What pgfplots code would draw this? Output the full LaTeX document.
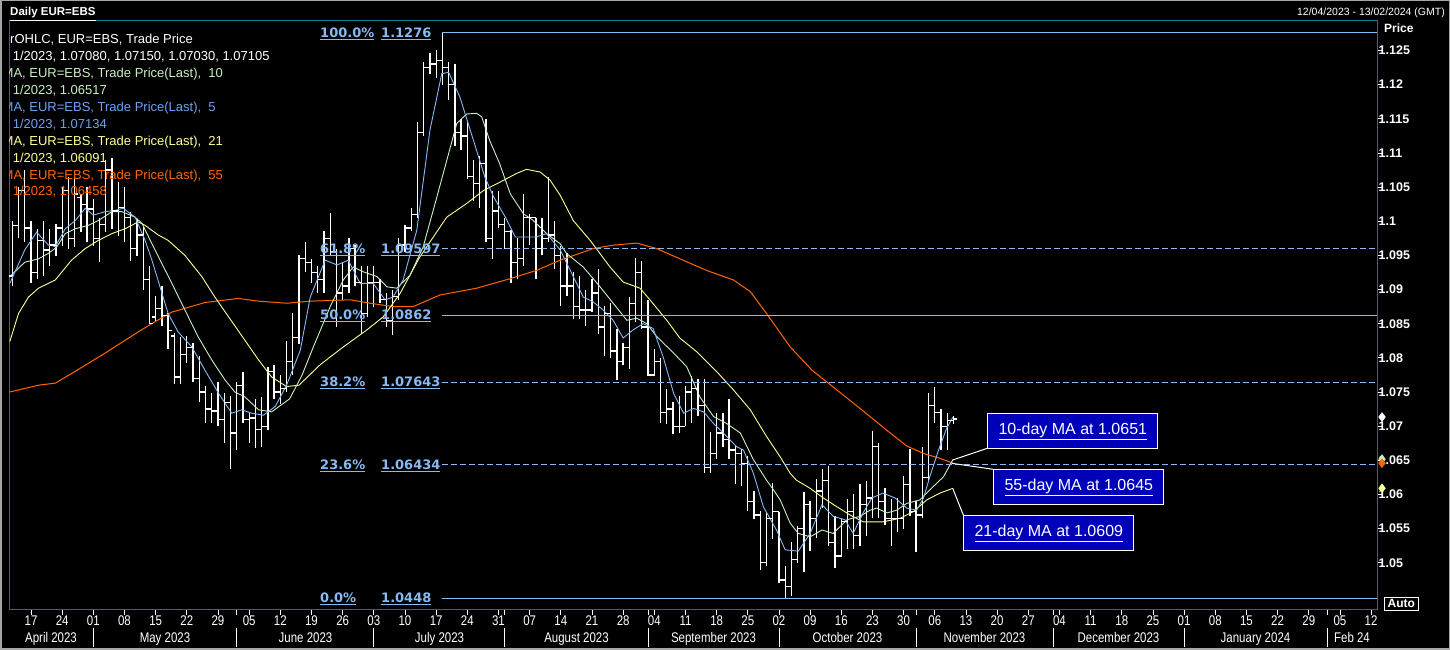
\documentclass[border=0pt]{standalone}
\usepackage{fontspec}
\setmainfont{Liberation Sans}
\newfontfamily\dvs{DejaVu Sans}
\newfontfamily\narrow[FakeStretch=0.82]{Liberation Sans}
\usepackage{pgfplots}
\usepackage{pgfplotstable}
\pgfplotsset{compat=1.18}

\definecolor{tealc}{RGB}{0,128,128}
\definecolor{fibc}{RGB}{135,185,245}
\definecolor{mafive}{RGB}{135,185,245}
\definecolor{maten}{RGB}{200,240,195}
\definecolor{matwo}{RGB}{255,255,150}
\definecolor{mafifty}{RGB}{255,102,0}
\definecolor{legblue}{RGB}{110,160,240}
\definecolor{boxc}{RGB}{0,0,185}

\pgfdeclareplotmark{otick}{\pgfpathmoveto{\pgfqpoint{-3.5bp}{0pt}}\pgfpathlineto{\pgfqpoint{0pt}{0pt}}\pgfusepathqstroke}
\pgfdeclareplotmark{ctick}{\pgfpathmoveto{\pgfqpoint{0pt}{0pt}}\pgfpathlineto{\pgfqpoint{3.5bp}{0pt}}\pgfusepathqstroke}

% Daily OHLC, index = trading days from Mon 17 Apr 2023
\pgfplotstableread{
i O H L C
-3 1.0920 1.1000 1.0905 1.0994
-2 1.0994 1.1050 1.0975 1.1045
-1 1.1045 1.1075 1.0970 1.0990
0 1.0990 1.1000 1.0910 1.0925
1 1.0925 1.0988 1.0915 1.0972
2 1.0972 1.1000 1.0920 1.0958
3 1.0958 1.0988 1.0935 1.0965
4 1.0965 1.0996 1.0949 1.0990
5 1.0990 1.1050 1.0964 1.1045
6 1.1045 1.1065 1.0959 1.0975
7 1.0975 1.1065 1.0962 1.1040
8 1.1035 1.1040 1.0984 1.1025
9 1.1025 1.1050 1.0969 1.1018
10 1.1018 1.1032 1.0964 1.0975
11 1.0975 1.1005 1.0940 1.0995
12 1.0995 1.1090 1.0984 1.1075
13 1.1075 1.1092 1.0988 1.1015
14 1.1015 1.1057 1.0979 1.1020
15 1.1020 1.1050 1.0969 1.1005
16 1.1005 1.1013 1.0942 1.0960
17 1.0960 1.1003 1.0949 1.0980
18 1.0980 1.0992 1.0900 1.0915
19 1.0915 1.0935 1.0849 1.0850
20 1.0860 1.0890 1.0852 1.0872
21 1.0872 1.0905 1.0847 1.0862
22 1.0862 1.0866 1.0813 1.0840
23 1.0832 1.0837 1.0762 1.0772
24 1.0772 1.0830 1.0762 1.0805
25 1.0805 1.0832 1.0793 1.0815
26 1.0815 1.0822 1.0765 1.0770
27 1.0770 1.0803 1.0735 1.0750
28 1.0750 1.0759 1.0705 1.0725
29 1.0725 1.0749 1.0705 1.0722
30 1.0722 1.0764 1.0700 1.0710
31 1.0710 1.0749 1.0676 1.0735
32 1.0735 1.0744 1.0637 1.0690
33 1.0690 1.0765 1.0665 1.0760
34 1.0760 1.0779 1.0705 1.0710
35 1.0710 1.0720 1.0676 1.0712
36 1.0712 1.0740 1.0668 1.0695
37 1.0695 1.0742 1.0670 1.0700
38 1.0700 1.0786 1.0695 1.0780
39 1.0780 1.0790 1.0740 1.0750
40 1.0750 1.0775 1.0732 1.0755
41 1.0755 1.0825 1.0750 1.0795
42 1.0795 1.0865 1.0775 1.0830
43 1.0830 1.0950 1.0820 1.0945
44 1.0945 1.0970 1.0925 1.0940
45 1.0940 1.0945 1.0910 1.0925
46 1.0925 1.0935 1.0895 1.0915
47 1.0915 1.0985 1.0895 1.0975
48 1.0975 1.1012 1.0950 1.0955
49 1.0955 1.0960 1.0845 1.0895
50 1.0895 1.0940 1.0885 1.0905
51 1.0905 1.0975 1.0895 1.0960
52 1.0960 1.0965 1.0905 1.0910
53 1.0910 1.0935 1.0835 1.0865
54 1.0865 1.0935 1.0860 1.0910
55 1.0910 1.0935 1.0875 1.0910
56 1.0910 1.0915 1.0880 1.0885
57 1.0885 1.0895 1.0845 1.0855
58 1.0855 1.0900 1.0833 1.0890
59 1.0890 1.0975 1.0885 1.0965
60 1.0965 1.0995 1.0955 1.0990
61 1.0990 1.1020 1.0985 1.1010
62 1.1010 1.1145 1.1005 1.1130
63 1.1130 1.1233 1.1125 1.1225
64 1.1225 1.1247 1.1215 1.1230
65 1.1230 1.1250 1.1210 1.1235
66 1.1235 1.1276 1.1200 1.1225
67 1.1225 1.1233 1.1177 1.1200
68 1.1200 1.1230 1.1110 1.1130
69 1.1130 1.1150 1.1105 1.1125
70 1.1125 1.1145 1.1062 1.1065
71 1.1065 1.1090 1.1030 1.1055
72 1.1055 1.1095 1.1020 1.1085
73 1.1085 1.1150 1.0969 1.0975
74 1.0975 1.1045 1.0944 1.1015
75 1.1015 1.1045 1.0990 1.0995
76 1.0995 1.1005 1.0960 1.0985
77 1.0985 1.0987 1.0909 1.0940
78 1.0940 1.0975 1.0915 1.0945
79 1.0945 1.1040 1.0935 1.1005
80 1.1005 1.1010 1.0965 1.1005
81 1.1005 1.1005 1.0915 1.0960
82 1.0960 1.1005 1.0950 1.0975
83 1.0975 1.1065 1.0970 1.0980
84 1.0980 1.1000 1.0930 1.0950
85 1.0950 1.0964 1.0876 1.0905
86 1.0905 1.0954 1.0891 1.0905
87 1.0905 1.0925 1.0857 1.0875
88 1.0875 1.0920 1.0857 1.0870
89 1.0870 1.0900 1.0847 1.0870
90 1.0870 1.0915 1.0867 1.0895
91 1.0895 1.0930 1.0835 1.0845
92 1.0845 1.0876 1.0803 1.0865
93 1.0865 1.0881 1.0800 1.0810
94 1.0810 1.0842 1.0767 1.0795
95 1.0795 1.0822 1.0790 1.0815
96 1.0815 1.0889 1.0784 1.0880
97 1.0880 1.0946 1.0852 1.0925
98 1.0925 1.0942 1.0842 1.0845
99 1.0845 1.0885 1.0774 1.0775
100 1.0775 1.0813 1.0774 1.0795
101 1.0795 1.0800 1.0705 1.0720
102 1.0720 1.0754 1.0703 1.0725
103 1.0725 1.0735 1.0689 1.0700
104 1.0700 1.0744 1.0690 1.0700
105 1.0700 1.0759 1.0700 1.0750
106 1.0750 1.0774 1.0705 1.0755
107 1.0755 1.0769 1.0715 1.0730
108 1.0730 1.0769 1.0632 1.0640
109 1.0640 1.0691 1.0632 1.0660
110 1.0660 1.0720 1.0652 1.0690
111 1.0690 1.0720 1.0670 1.0680
112 1.0680 1.0740 1.0652 1.0665
113 1.0665 1.0671 1.0615 1.0660
114 1.0660 1.0666 1.0613 1.0645
115 1.0645 1.0657 1.0576 1.0590
116 1.0590 1.0605 1.0564 1.0570
117 1.0570 1.0576 1.0490 1.0500
118 1.0500 1.0575 1.0495 1.0565
119 1.0565 1.0617 1.0535 1.0575
120 1.0575 1.0575 1.0470 1.0475
121 1.0475 1.0495 1.0448 1.0465
122 1.0465 1.0530 1.0451 1.0505
123 1.0505 1.0554 1.0500 1.0550
124 1.0550 1.0603 1.0486 1.0585
125 1.0585 1.0590 1.0517 1.0565
126 1.0565 1.0622 1.0537 1.0605
127 1.0605 1.0637 1.0580 1.0620
128 1.0620 1.0641 1.0525 1.0530
129 1.0530 1.0569 1.0493 1.0510
130 1.0510 1.0564 1.0508 1.0560
131 1.0560 1.0593 1.0520 1.0575
132 1.0575 1.0600 1.0520 1.0540
133 1.0540 1.0615 1.0525 1.0585
134 1.0585 1.0620 1.0539 1.0595
135 1.0595 1.0693 1.0566 1.0670
136 1.0670 1.0675 1.0565 1.0590
137 1.0590 1.0610 1.0555 1.0565
138 1.0565 1.0593 1.0525 1.0565
139 1.0565 1.0595 1.0545 1.0565
140 1.0565 1.0627 1.0549 1.0615
141 1.0615 1.0666 1.0568 1.0575
142 1.0575 1.0590 1.0516 1.0570
143 1.0570 1.0670 1.0565 1.0625
144 1.0625 1.0749 1.0620 1.0730
145 1.0730 1.0757 1.0705 1.0720
146 1.0720 1.0725 1.0665 1.0700
147 1.0700 1.0720 1.0665 1.0708
148 1.0708 1.0715 1.0703 1.07105
}\ohlc

\pgfplotstableread{
x y
-3.4 1.0909
-1.0 1.0958
0.9 1.0984
2.8 1.0965
3.9 1.0963
5.5 1.0989
7.1 1.1001
8.7 1.1019
10.0 1.1009
11.9 1.1014
13.5 1.1016
14.8 1.1019
16.7 1.1006
18.3 1.0972
19.4 1.0943
20.7 1.0904
22.0 1.0865
23.6 1.0838
25.8 1.0816
27.9 1.0782
30.1 1.0748
32.2 1.0719
33.8 1.0724
35.4 1.0719
37.3 1.0716
39.2 1.0729
41.0 1.0760
43.2 1.0811
44.8 1.0889
47.2 1.0943
49.1 1.0936
50.9 1.0943
52.8 1.0909
54.9 1.0909
56.8 1.0885
58.1 1.0889
59.7 1.0914
61.9 1.0987
64.0 1.1133
65.9 1.1216
67.0 1.1218
68.8 1.1182
71.0 1.1118
72.8 1.1065
74.2 1.1036
76.1 1.1006
77.7 1.0977
79.5 1.0977
81.1 1.0977
82.7 1.0982
84.9 1.0958
87.0 1.0919
88.6 1.0889
90.2 1.0882
91.8 1.0870
93.4 1.0855
95.0 1.0829
96.6 1.0841
98.2 1.0850
99.8 1.0843
101.4 1.0802
103.1 1.0748
104.7 1.0719
106.3 1.0726
107.9 1.0721
109.5 1.0704
111.6 1.0685
113.2 1.0670
114.3 1.0665
115.9 1.0631
117.5 1.0582
119.6 1.0548
121.0 1.0519
123.1 1.0517
125.0 1.0543
126.9 1.0585
128.7 1.0568
130.6 1.0563
131.9 1.0543
133.5 1.0573
134.9 1.0595
136.7 1.0602
138.6 1.0595
140.5 1.0580
142.1 1.0577
143.2 1.0595
144.2 1.0626
145.6 1.0665
146.9 1.0697
147.9 1.0713
}\maA

\pgfplotstableread{
x y
-3.4 1.0919
-1.0 1.0940
1.2 1.0945
2.8 1.0953
4.1 1.0962
5.5 1.0982
7.1 1.0989
9.2 1.0994
10.8 1.1001
13.0 1.1014
14.6 1.1014
16.7 1.1006
17.8 1.0997
19.4 1.0967
21.0 1.0938
22.6 1.0909
24.7 1.0870
26.8 1.0831
29.0 1.0797
31.1 1.0768
32.7 1.0750
34.3 1.0743
36.5 1.0724
38.6 1.0721
41.5 1.0740
43.5 1.0775
45.3 1.0816
48.0 1.0875
50.1 1.0914
51.7 1.0933
53.3 1.0926
55.5 1.0919
57.1 1.0904
58.7 1.0902
60.8 1.0921
62.9 1.0962
65.1 1.1035
67.0 1.1099
68.3 1.1143
69.9 1.1157
71.5 1.1158
72.3 1.1153
73.6 1.1118
75.2 1.1084
76.9 1.1040
79.0 1.1011
80.6 1.1001
82.7 1.0982
84.9 1.0967
85.9 1.0953
88.6 1.0933
91.3 1.0904
93.4 1.0880
95.6 1.0855
97.2 1.0858
98.8 1.0850
100.4 1.0831
103.1 1.0807
105.2 1.0787
107.3 1.0743
109.5 1.0714
111.6 1.0704
113.8 1.0690
115.9 1.0651
118.0 1.0621
119.1 1.0607
120.2 1.0592
121.8 1.0558
123.1 1.0543
125.0 1.0538
126.9 1.0548
128.7 1.0543
130.9 1.0563
133.0 1.0568
134.6 1.0577
135.7 1.0580
137.3 1.0573
138.9 1.0577
140.5 1.0587
142.6 1.0592
144.8 1.0612
146.4 1.0626
147.9 1.0651
}\maB

\pgfplotstableread{
x y
-3.4 1.0824
-2.0 1.0865
-0.4 1.0889
1.2 1.0902
3.9 1.0914
6.5 1.0943
8.7 1.0960
10.8 1.0972
13.0 1.0982
15.1 1.0989
17.2 1.0999
18.3 1.0994
20.4 1.0980
22.0 1.0972
24.7 1.0950
27.4 1.0919
29.5 1.0889
31.7 1.0860
34.3 1.0826
36.5 1.0797
38.6 1.0772
41.0 1.0758
43.0 1.0760
46.4 1.0790
50.1 1.0816
53.9 1.0841
56.5 1.0860
59.2 1.0894
62.4 1.0948
66.7 1.1006
69.9 1.1026
72.6 1.1045
75.2 1.1057
77.9 1.1070
79.5 1.1076
81.7 1.1072
83.3 1.1060
84.9 1.1038
87.0 1.1001
89.7 1.0972
92.9 1.0933
95.0 1.0911
97.7 1.0902
99.3 1.0885
102.0 1.0855
104.1 1.0829
106.8 1.0809
110.0 1.0780
112.7 1.0753
115.4 1.0724
118.0 1.0685
120.2 1.0655
121.8 1.0631
122.8 1.0621
125.0 1.0609
127.1 1.0595
129.3 1.0582
131.4 1.0570
133.5 1.0560
136.7 1.0560
139.4 1.0565
141.6 1.0575
143.7 1.0592
145.8 1.0602
147.9 1.0609
}\maC

\pgfplotstableread{
x y
-3.4 1.0750
1.2 1.0760
3.9 1.0763
6.5 1.0777
11.9 1.0807
17.2 1.0838
19.9 1.0853
22.6 1.0867
27.9 1.0881
33.3 1.0887
36.5 1.0883
41.0 1.0880
44.8 1.0883
51.2 1.0885
54.4 1.0880
58.1 1.0875
61.3 1.0875
65.6 1.0892
71.5 1.0902
76.9 1.0916
81.1 1.0928
84.9 1.0943
90.2 1.0960
93.4 1.0965
97.2 1.0968
100.4 1.0960
104.1 1.0945
108.4 1.0928
112.7 1.0914
115.4 1.0897
118.0 1.0865
121.8 1.0816
125.3 1.0782
129.3 1.0753
133.0 1.0726
137.3 1.0694
140.5 1.0671
143.2 1.0660
145.8 1.0653
147.9 1.0646
}\maD

\newcommand\fsz[1]{\fontsize{#1bp}{#1bp}\selectfont}

\begin{document}
\begin{tikzpicture}[x=1bp,y=1bp]
\fill[black] (0,0) rectangle (1450,650);
\begin{axis}[
  at={(9bp,40bp)}, anchor=south west,
  scale only axis, width=1368bp, height=589bp,
  xmin=-3.53, xmax=215.95, ymin=1.04309, ymax=1.129315,
  axis line style={draw=tealc, line width=1bp},
  clip=false,
  ytick={1.05,1.055,1.06,1.065,1.07,1.075,1.08,1.085,1.09,1.095,1.1,1.105,1.11,1.115,1.12,1.125},
  yticklabels={1.05,1.055,1.06,1.065,1.07,1.075,1.08,1.085,1.09,1.095,1.1,1.105,1.11,1.115,1.12,1.125},
  ytick pos=right, yticklabel pos=right,
  xtick={0,5,...,215},
  xticklabels={17,24,01,08,15,22,29,05,12,19,26,03,10,17,24,31,07,14,21,28,04,11,18,25,02,09,16,23,30,06,13,20,27,04,11,18,25,01,08,15,22,29,05,12},
  xtick pos=left,
  extra x ticks={10,33,55,76,99,120,142,164,185,208},
  extra x tick labels={},
  tick align=outside,
  major tick length=5bp,
  tick style={white, line width=0.8bp},
  yticklabel style={font=\bfseries\fsz{12.5}, text=white, inner sep=0bp, xshift=-3.5bp},
  xticklabel style={font=\narrow\fsz{14}, text=white, inner sep=1bp},
]
% OHLC bars
\addplot[draw=none, mark=none, forget plot, error bars/.cd, y dir=plus, y explicit, error mark=none, error bar style={draw=white, line width=1.3bp}]
  table[x=i, y=L, y error expr=\thisrow{H}-\thisrow{L}] {\ohlc};
\addplot[only marks, mark=otick, mark options={draw=white, line width=1.3bp}] table[x=i,y=O] {\ohlc};
\addplot[only marks, mark=ctick, mark options={draw=white, line width=1.3bp}] table[x=i,y=C] {\ohlc};
% moving averages
\addplot[mafifty, line width=1bp, mark=none] table {\maD};
\addplot[matwo, line width=0.9bp, mark=none] table {\maC};
\addplot[maten, line width=0.9bp, mark=none] table {\maB};
\addplot[mafive, line width=0.9bp, mark=none] table {\maA};
% Fibonacci levels
\addplot[fibc, line width=1.2bp] coordinates {(66,1.1276) (215.95,1.1276)};
\addplot[fibc, line width=1.2bp, dash pattern=on 6bp off 3bp] coordinates {(66,1.09597) (215.95,1.09597)};
\addplot[fibc, line width=1.2bp] coordinates {(66,1.0862) (215.95,1.0862)};
\addplot[fibc, line width=1.2bp, dash pattern=on 6bp off 3bp] coordinates {(66,1.07643) (215.95,1.07643)};
\addplot[fibc, line width=1.2bp, dash pattern=on 6bp off 3bp] coordinates {(66,1.06434) (215.95,1.06434)};
\addplot[fibc, line width=1.2bp] coordinates {(66,1.0448) (215.95,1.0448)};
% last-value markers
\addplot[only marks, mark=diamond*, mark size=4.5bp, mark options={fill=white, draw=white}] coordinates {(216.75,1.07134)};
\addplot[only marks, mark=diamond*, mark size=4.5bp, mark options={fill=matwo, draw=matwo}] coordinates {(216.75,1.06091)};
\addplot[only marks, mark=diamond*, mark size=4.5bp, mark options={fill=maten, draw=maten}] coordinates {(216.75,1.06517)};
\addplot[only marks, mark=diamond*, mark size=4.5bp, mark options={fill=mafifty, draw=mafifty}] coordinates {(216.75,1.06458)};
\end{axis}

% Fibonacci labels
\begin{scope}[every node/.style={inner sep=0, anchor=base west, text=fibc, font=\dvs\bfseries\fsz{13}}]
\node at (320,650-37.2) {\underline{100.0\%}};
\node at (381,650-37.2) {\underline{1.1276}};
\node at (320,650-253.3) {\underline{61.8\%}};
\node at (381,650-253.3) {\underline{1.09597}};
\node at (320,650-320) {\underline{50.0\%}};
\node at (381,650-320) {\underline{1.0862}};
\node at (320,650-386.8) {\underline{38.2\%}};
\node at (381,650-386.8) {\underline{1.07643}};
\node at (320,650-469.3) {\underline{23.6\%}};
\node at (381,650-469.3) {\underline{1.06434}};
\node at (320,650-602.8) {\underline{0.0\%}};
\node at (381,650-602.8) {\underline{1.0448}};
\end{scope}

% legend block (clipped at plot frame)
\begin{scope}
\clip (9,0) rectangle (1377,650);
\begin{scope}[every node/.style={inner sep=0, anchor=base west, font=\fsz{13}}]
\node[text=white] at (10,650-43.3) {rOHLC, EUR=EBS, Trade Price};
\node[text=white] at (12.7,650-60.3) {1/2023, 1.07080, 1.07150, 1.07030, 1.07105};
\node[text=maten] at (2.5,650-77.2) {MA, EUR=EBS, Trade Price(Last),~~10};
\node[text=maten] at (12.7,650-94.2) {1/2023, 1.06517};
\node[text=legblue] at (2.5,650-111.2) {MA, EUR=EBS, Trade Price(Last),~~5};
\node[text=legblue] at (12.7,650-128.2) {1/2023, 1.07134};
\node[text=matwo] at (2.5,650-145.1) {MA, EUR=EBS, Trade Price(Last),~~21};
\node[text=matwo] at (12.7,650-162.1) {1/2023, 1.06091};
\node[text=mafifty] at (2.5,650-179.1) {MA, EUR=EBS, Trade Price(Last),~~55};
\node[text=mafifty] at (12.7,650-196) {1/2023, 1.06458};
\end{scope}
\end{scope}

% annotation connectors and boxes
\draw[white, line width=1bp] (952.7,650-460) -- (987.3,650-448.3);
\draw[white, line width=1bp] (951.7,650-463.3) -- (993.3,650-469.3);
\draw[white, line width=1bp] (952.7,650-488.3) -- (963.3,650-515);
\begin{scope}[every node/.style={draw=white, line width=1bp, fill=boxc, text=white, inner sep=0, anchor=north west, minimum width=170bp, minimum height=35bp, font=\fsz{16}}]
\node at (987.3,650-413.3) {\underline{10-day MA at 1.0651}};
\node at (993.3,650-469.3) {\underline{55-day MA at 1.0645}};
\node at (963.3,650-515) {\underline{21-day MA at 1.0609}};
\end{scope}

% header texts
\node[inner sep=0, anchor=base west, text=white, font=\bfseries\fsz{11.5}] at (10,650-16) {\underline{Daily EUR=EBS}};
\node[inner sep=0, anchor=base east, text=white, font=\fsz{10.5}] at (1445,650-16) {12/04/2023 - 13/02/2024 (GMT)};
\node[inner sep=0, anchor=base west, text=white, font=\bfseries\fsz{12}] at (1384,650-33) {Price};
\node[draw=white, line width=1bp, inner sep=0, anchor=north west, minimum width=33.6bp, minimum height=13.3bp, text=white, font=\bfseries\fsz{12}] at (1384,650-596.7) {Auto};

% month row
\begin{scope}[every node/.style={inner sep=0, anchor=base, text=white, font=\narrow\fsz{14}}]
\node at (51,650-643) {April 2023};
\node at (165,650-643) {May 2023};
\node at (305.5,650-643) {June 2023};
\node at (439.5,650-643) {July 2023};
\node at (576.5,650-643) {August 2023};
\node at (713.5,650-643) {September 2023};
\node at (847.5,650-643) {October 2023};
\node at (984.5,650-643) {November 2023};
\node at (1118.5,650-643) {December 2023};
\node at (1255.5,650-643) {January 2024};
\node at (1352,650-643) {Feb 24};
\end{scope}
\foreach \mx in {93.3,236.7,373.8,504.7,648.1,779,916,1053.2,1184.1,1327.4}
  \draw[white, line width=0.8bp] (\mx,650-628) -- (\mx,650-647);

\draw[gray!70, line width=1.5bp] (0.75,0.75) rectangle (1449.25,649.25);
\pgfresetboundingbox
\path[use as bounding box] (0,0) rectangle (1450,650);
\end{tikzpicture}
\end{document}
